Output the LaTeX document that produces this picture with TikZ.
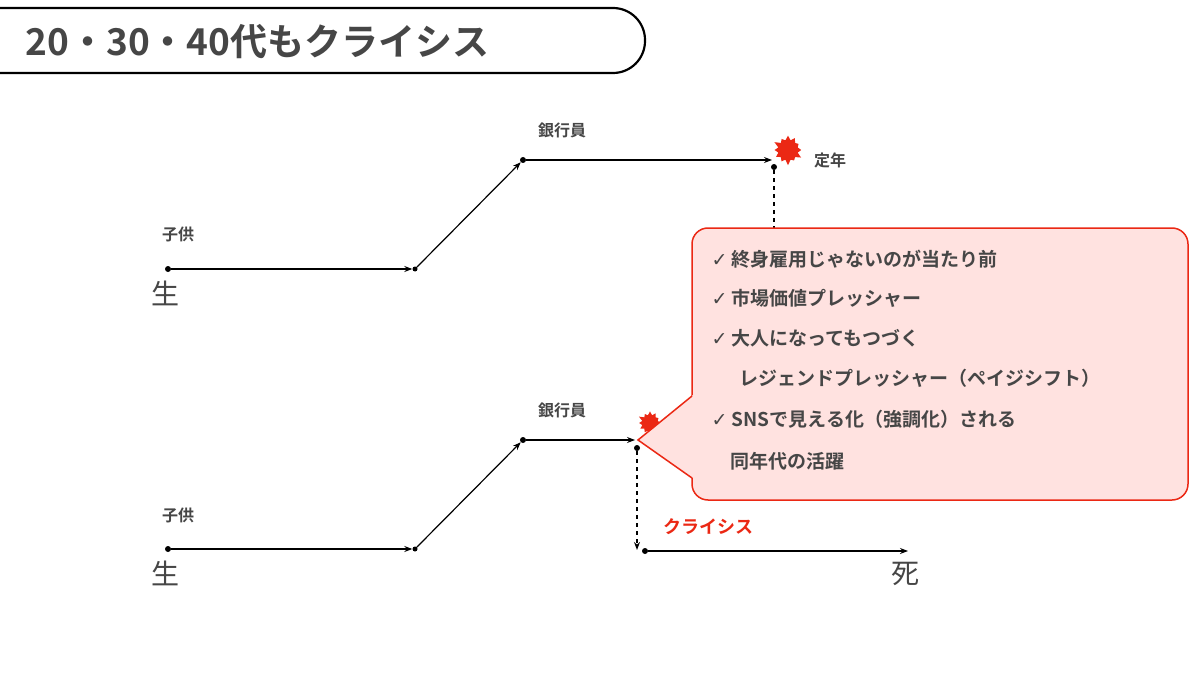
\documentclass[tikz,border=0pt]{standalone}
\usepackage{fontspec}
\newfontfamily\cjk{Noto Sans CJK JP}[BoldFont={Noto Sans CJK JP Bold}]
\newfontfamily\djfont{DejaVu Sans}
\usetikzlibrary{shapes.symbols,arrows.meta}
\definecolor{txt}{RGB}{70,70,70}
\definecolor{redc}{RGB}{235,40,20}
\definecolor{pinkc}{RGB}{255,226,224}
\tikzset{
 ln/.style={line width=1.2pt,-{Stealth[length=8pt,width=6pt]}},
 dotc/.style={circle,fill=black,inner sep=0pt,minimum size=6pt},
 lbl/.style={font=\cjk\bfseries\fontsize{16}{18}\selectfont,text=txt},
 big/.style={font=\cjk\fontsize{28}{30}\selectfont,text=txt},
 item/.style={font=\cjk\bfseries\fontsize{19}{22}\selectfont,text=txt,anchor=west},
 burst/.style={starburst,starburst points=12,starburst point height=#1,fill=redc,draw=none,inner sep=0pt}
}
\begin{document}
\begin{tikzpicture}[x=1pt,y=-1pt]
\useasboundingbox[fill=white] (0,0) rectangle (1200,674);
% title
\draw[line width=2.2pt,rounded corners=32] (-30,8) rectangle (645,73);
\node[font=\cjk\bfseries\fontsize{37}{40}\selectfont,text=txt,anchor=west] (title) at (22,42) {20・30・40代もクライシス};
% top timeline
\node[dotc] (a1) at (168,269) {};
\node[dotc,minimum size=5pt] (a2) at (415,269) {};
\node[dotc] (a3) at (523,160) {};
\coordinate (a4) at (772,160);
\node[dotc] (a5) at (774,167) {};
\coordinate (a6) at (774,235);
\draw[ln] (a1) -- (a2);
\draw[ln] (a2) -- (a3);
\draw[ln] (a3) -- (a4);
\draw[line width=1.5pt,dash pattern=on 4pt off 4pt] (a5) -- (a6);
\node[burst=6pt,minimum size=32pt] (b1) at (788,150) {};
\node[lbl] (k1) at (178,234) {子供};
\node[big] (s1) at (165,293) {生};
\node[lbl] (g1) at (562,130) {銀行員};
\node[lbl] (t1) at (830,160) {定年};
% bottom timeline
\node[dotc] (c1) at (168,549) {};
\node[dotc,minimum size=5pt] (c2) at (415,549) {};
\node[dotc] (c3) at (523,440) {};
\coordinate (c4) at (635,440);
\node[dotc] (c5) at (637,448) {};
\coordinate (c6) at (637,550);
\node[dotc] (c7) at (645,551) {};
\coordinate (c8) at (908,551);
\draw[ln] (c1) -- (c2);
\draw[ln] (c2) -- (c3);
\draw[ln] (c3) -- (c4);
\draw[line width=1.5pt,dash pattern=on 4pt off 4pt,-{Stealth[length=8pt,width=6pt]}] (c5) -- (c6);
\draw[ln] (c7) -- (c8);
\node[lbl] (k2) at (178,515) {子供};
\node[big] (s2) at (165,573) {生};
\node[lbl] (g2) at (562,410) {銀行員};
\node[big] (d2) at (905,574) {死};
\node[lbl,text=redc,font=\cjk\bfseries\fontsize{18}{20}\selectfont] (cr) at (708,527) {クライシス};
\node[burst=5pt,minimum size=26pt] (b2) at (650,423) {};
% callout
\draw[redc,line width=1.5pt,fill=pinkc,rounded corners=16] (692,228) rectangle (1188,500);
\fill[pinkc] (693,395) -- (638,440) -- (693,478) -- cycle;
\draw[redc,line width=1.5pt] (692,396) -- (638,440) -- (692,478);
\node[item] (i1) at (708,259) {{\djfont\mdseries ✓}\ 終身雇用じゃないのが当たり前};
\node[item] (i2) at (708,298) {{\djfont\mdseries ✓}\ 市場価値プレッシャー};
\node[item] (i3) at (708,338) {{\djfont\mdseries ✓}\ 大人になってもつづく};
\node[item] (i4) at (736,378) {レジェンドプレッシャー（ペイジシフト）};
\node[item] (i5) at (708,419) {{\djfont\mdseries ✓}\ SNSで見える化（強調化）される};
\node[item] (i6) at (727,461) {同年代の活躍};
\end{tikzpicture}
\end{document}
